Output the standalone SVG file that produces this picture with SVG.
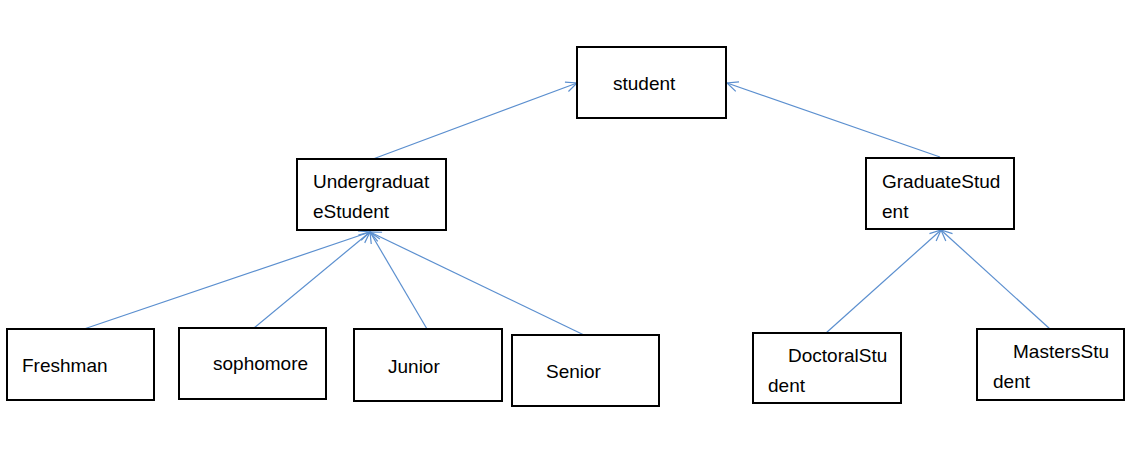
<svg xmlns="http://www.w3.org/2000/svg" width="1135" height="456" viewBox="0 0 1135 456">
<style>
.box{fill:#fff;stroke:#000;stroke-width:2}
.lbl{font-family:"Liberation Sans",Arial,sans-serif;font-size:19px;fill:#000}
.edge{stroke:#5b8fcf;stroke-width:1.2;fill:none}
</style>
<defs>
<marker id="arr" markerUnits="userSpaceOnUse" markerWidth="14" markerHeight="14" refX="12" refY="6" orient="auto">
<path d="M1,1 L12,6 L1,11" fill="none" stroke="#5b8fcf" stroke-width="1.2"/>
</marker>
</defs>
<rect width="1135" height="456" fill="#fff"/>
<g id="connectors">
<line class="edge" x1="373" y1="159" x2="577" y2="83" marker-end="url(#arr)"/>
<line class="edge" x1="940" y1="157" x2="727" y2="83" marker-end="url(#arr)"/>
<line class="edge" x1="84" y1="329" x2="370" y2="232" marker-end="url(#arr)"/>
<line class="edge" x1="254" y1="328" x2="370" y2="232" marker-end="url(#arr)"/>
<line class="edge" x1="427" y1="329" x2="370" y2="232" marker-end="url(#arr)"/>
<line class="edge" x1="584" y1="335" x2="370" y2="232" marker-end="url(#arr)"/>
<line class="edge" x1="826" y1="333" x2="941" y2="230" marker-end="url(#arr)"/>
<line class="edge" x1="1050" y1="329" x2="941" y2="230" marker-end="url(#arr)"/>
</g>
<g id="student">
<rect class="box" x="577" y="47" width="149" height="71"/>
<text class="lbl" x="613" y="90">student</text>
</g>
<g id="undergraduate">
<rect class="box" x="297" y="159" width="149" height="71"/>
<text class="lbl" x="313" y="188">Undergraduat</text>
<text class="lbl" x="313" y="218">eStudent</text>
</g>
<g id="graduate">
<rect class="box" x="866" y="158" width="148" height="71"/>
<text class="lbl" x="882" y="188">GraduateStud</text>
<text class="lbl" x="882" y="218">ent</text>
</g>
<g id="freshman">
<rect class="box" x="7" y="329" width="147" height="71"/>
<text class="lbl" x="22" y="372">Freshman</text>
</g>
<g id="sophomore">
<rect class="box" x="179" y="328" width="147" height="71"/>
<text class="lbl" x="213" y="370">sophomore</text>
</g>
<g id="junior">
<rect class="box" x="354" y="329" width="148" height="72"/>
<text class="lbl" x="388" y="373">Junior</text>
</g>
<g id="senior">
<rect class="box" x="512" y="335" width="147" height="71"/>
<text class="lbl" x="546" y="378">Senior</text>
</g>
<g id="doctoral">
<rect class="box" x="753" y="333" width="148" height="70"/>
<text class="lbl" x="788" y="362">DoctoralStu</text>
<text class="lbl" x="768" y="392">dent</text>
</g>
<g id="masters">
<rect class="box" x="977" y="329" width="147" height="71"/>
<text class="lbl" x="1013" y="358">MastersStu</text>
<text class="lbl" x="993" y="388">dent</text>
</g>
</svg>
